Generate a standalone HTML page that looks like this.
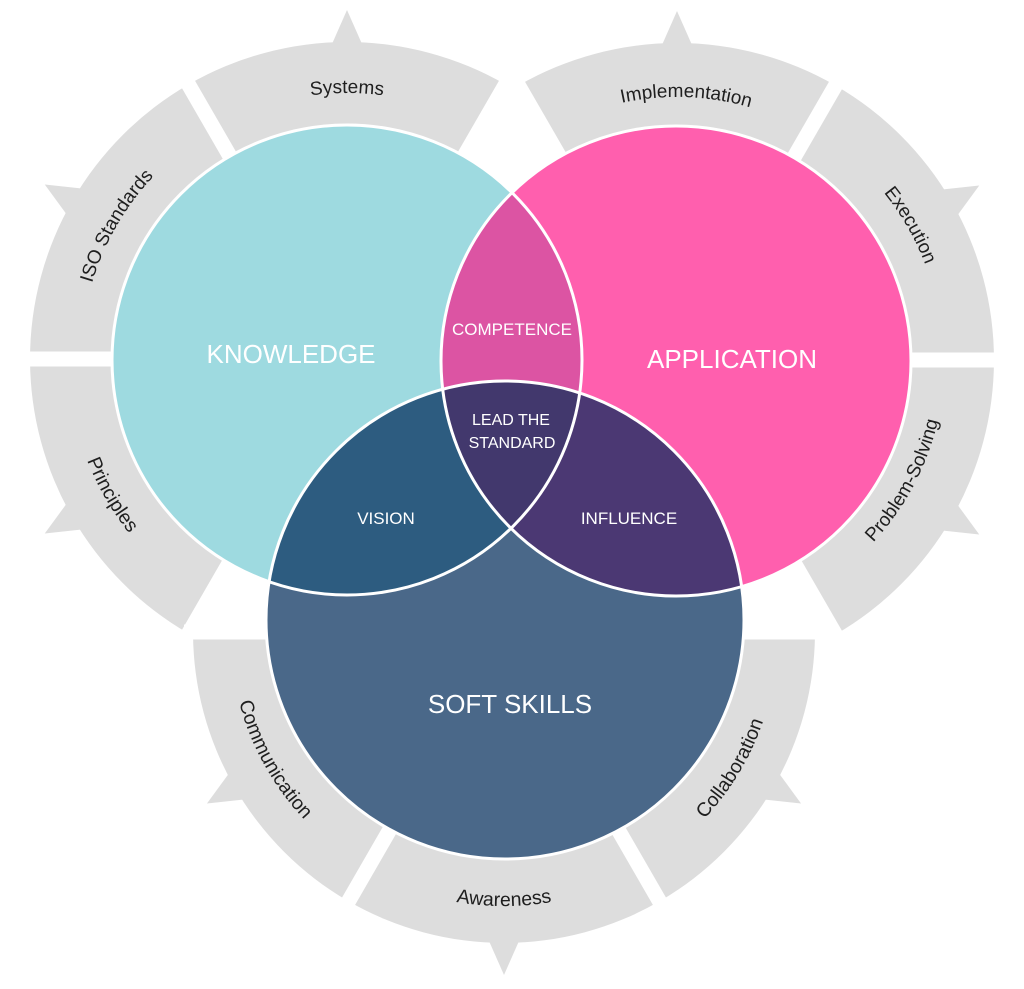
<!DOCTYPE html>
<html><head><meta charset="utf-8"><style>
html,body{margin:0;padding:0;background:#fff;}
svg{display:block;}
text{font-family:"Liberation Sans",sans-serif;}
</style></head><body>
<svg width="1024" height="989" viewBox="0 0 1024 989" xmlns="http://www.w3.org/2000/svg">
<defs>
  <g id="seg317">
    <path d="M -112.5 -194.9 L -158.5 -274.5 A 317 317 0 0 1 158.5 -274.5 L 112.5 -194.9 A 225 225 0 0 0 -112.5 -194.9 Z" fill="#dddddd"/>
    <polygon points="-15,-315 0,-349 15,-315" fill="#dddddd"/>
  </g>
  <g id="seg311">
    <path d="M -112.5 -194.9 L -155.5 -269.3 A 311 311 0 0 1 155.5 -269.3 L 112.5 -194.9 A 225 225 0 0 0 -112.5 -194.9 Z" fill="#dddddd"/>
    <polygon points="-15,-309 0,-343 15,-309" fill="#dddddd"/>
  </g>
  <line id="gapline" x1="0" y1="-190" x2="0" y2="-320" stroke="#fff" stroke-width="15"/>
  <path id="up266" d="M -152.6 -217.9 A 266 266 0 0 1 152.6 -217.9"/>
  <path id="up263" d="M -150.9 -215.4 A 263 263 0 0 1 150.9 -215.4"/>
  <path id="dn274" d="M 157.2 -224.5 A 274 274 0 0 0 -157.2 -224.5"/>
  <path id="dn268" d="M 153.7 -219.5 A 268 268 0 0 0 -153.7 -219.5"/>
  <path id="dn279" d="M 160.0 -228.5 A 279 279 0 0 0 -160.0 -228.5"/>
  <clipPath id="cK"><circle cx="347" cy="360" r="235"/></clipPath>
  <clipPath id="cA"><circle cx="676" cy="361" r="235"/></clipPath>
  <clipPath id="cS"><circle cx="505" cy="620" r="239"/></clipPath>
</defs>

<!-- Knowledge ring -->
<g transform="translate(347,359)">
  <use href="#seg317"/>
  <use href="#seg317" transform="rotate(-60)"/>
  <use href="#seg317" transform="rotate(-120)"/>
  <use href="#gapline" transform="rotate(30)"/>
  <use href="#gapline" transform="rotate(-30)"/>
  <use href="#gapline" transform="rotate(-90)"/>
  <use href="#gapline" transform="rotate(-150)"/>
  <text font-size="19" fill="#1e1e1e"><textPath href="#up266" startOffset="50%" text-anchor="middle">Systems</textPath></text>
  <g transform="rotate(-60)"><text font-size="19" fill="#1e1e1e"><textPath href="#up266" startOffset="50%" text-anchor="middle">ISO Standards</textPath></text></g>
  <g transform="rotate(-120)"><text font-size="19.5" fill="#1e1e1e"><textPath href="#dn279" startOffset="50%" text-anchor="middle">Principles</textPath></text></g>
</g>

<!-- Application ring -->
<g transform="translate(677,360)">
  <use href="#seg317"/>
  <use href="#seg317" transform="rotate(60)"/>
  <use href="#seg317" transform="rotate(120)"/>
  <use href="#gapline" transform="rotate(-30)"/>
  <use href="#gapline" transform="rotate(30)"/>
  <use href="#gapline" transform="rotate(90)"/>
  <use href="#gapline" transform="rotate(150)"/>
  <g transform="rotate(2)"><text font-size="19" fill="#1e1e1e"><textPath href="#up263" startOffset="50%" text-anchor="middle">Implementation</textPath></text></g>
  <g transform="rotate(60)"><text font-size="19" fill="#1e1e1e"><textPath href="#up266" startOffset="50%" text-anchor="middle">Execution</textPath></text></g>
  <g transform="rotate(118)"><text font-size="19" fill="#1e1e1e"><textPath href="#dn268" startOffset="50%" text-anchor="middle">Problem-Solving</textPath></text></g>
</g>

<!-- Soft skills ring -->
<g transform="translate(504,632)">
  <use href="#seg311" transform="rotate(120)"/>
  <use href="#seg311" transform="rotate(180)"/>
  <use href="#seg311" transform="rotate(240)"/>
  <use href="#gapline" transform="rotate(90)"/>
  <use href="#gapline" transform="rotate(150)"/>
  <use href="#gapline" transform="rotate(210)"/>
  <use href="#gapline" transform="rotate(270)"/>
  <g transform="rotate(121)"><text font-size="19.5" fill="#1e1e1e"><textPath href="#dn274" startOffset="50%" text-anchor="middle">Collaboration</textPath></text></g>
  <g transform="rotate(180)"><text font-size="19.5" fill="#1e1e1e"><textPath href="#dn274" startOffset="50%" text-anchor="middle">Awareness</textPath></text></g>
  <g transform="rotate(241)"><text font-size="19.5" fill="#1e1e1e"><textPath href="#dn274" startOffset="50%" text-anchor="middle">Communication</textPath></text></g>
</g>

<!-- Circles -->
<circle cx="347" cy="360" r="235" fill="#9edae0"/>
<circle cx="676" cy="361" r="235" fill="#ff5fae"/>
<circle cx="505" cy="620" r="239" fill="#4a6889"/>
<circle cx="347" cy="360" r="235" fill="#dc54a3" clip-path="url(#cA)"/>
<circle cx="347" cy="360" r="235" fill="#2d5c80" clip-path="url(#cS)"/>
<circle cx="676" cy="361" r="235" fill="#4b3873" clip-path="url(#cS)"/>
<g clip-path="url(#cA)"><circle cx="347" cy="360" r="235" fill="#42386d" clip-path="url(#cS)"/></g>
<circle cx="347" cy="360" r="235" fill="none" stroke="#fff" stroke-width="3"/>
<circle cx="676" cy="361" r="235" fill="none" stroke="#fff" stroke-width="3"/>
<circle cx="505" cy="620" r="239" fill="none" stroke="#fff" stroke-width="3"/>

<!-- Labels -->
<g fill="#fff" text-anchor="middle">
  <text x="291" y="363" font-size="26">KNOWLEDGE</text>
  <text x="732" y="368" font-size="26">APPLICATION</text>
  <text x="510" y="713" font-size="26">SOFT SKILLS</text>
  <text x="512" y="335" font-size="17">COMPETENCE</text>
  <text x="511" y="425" font-size="16">LEAD THE</text>
  <text x="512" y="448" font-size="16">STANDARD</text>
  <text x="386" y="524" font-size="17">VISION</text>
  <text x="629" y="524" font-size="17">INFLUENCE</text>
</g>
</svg>
</body></html>
